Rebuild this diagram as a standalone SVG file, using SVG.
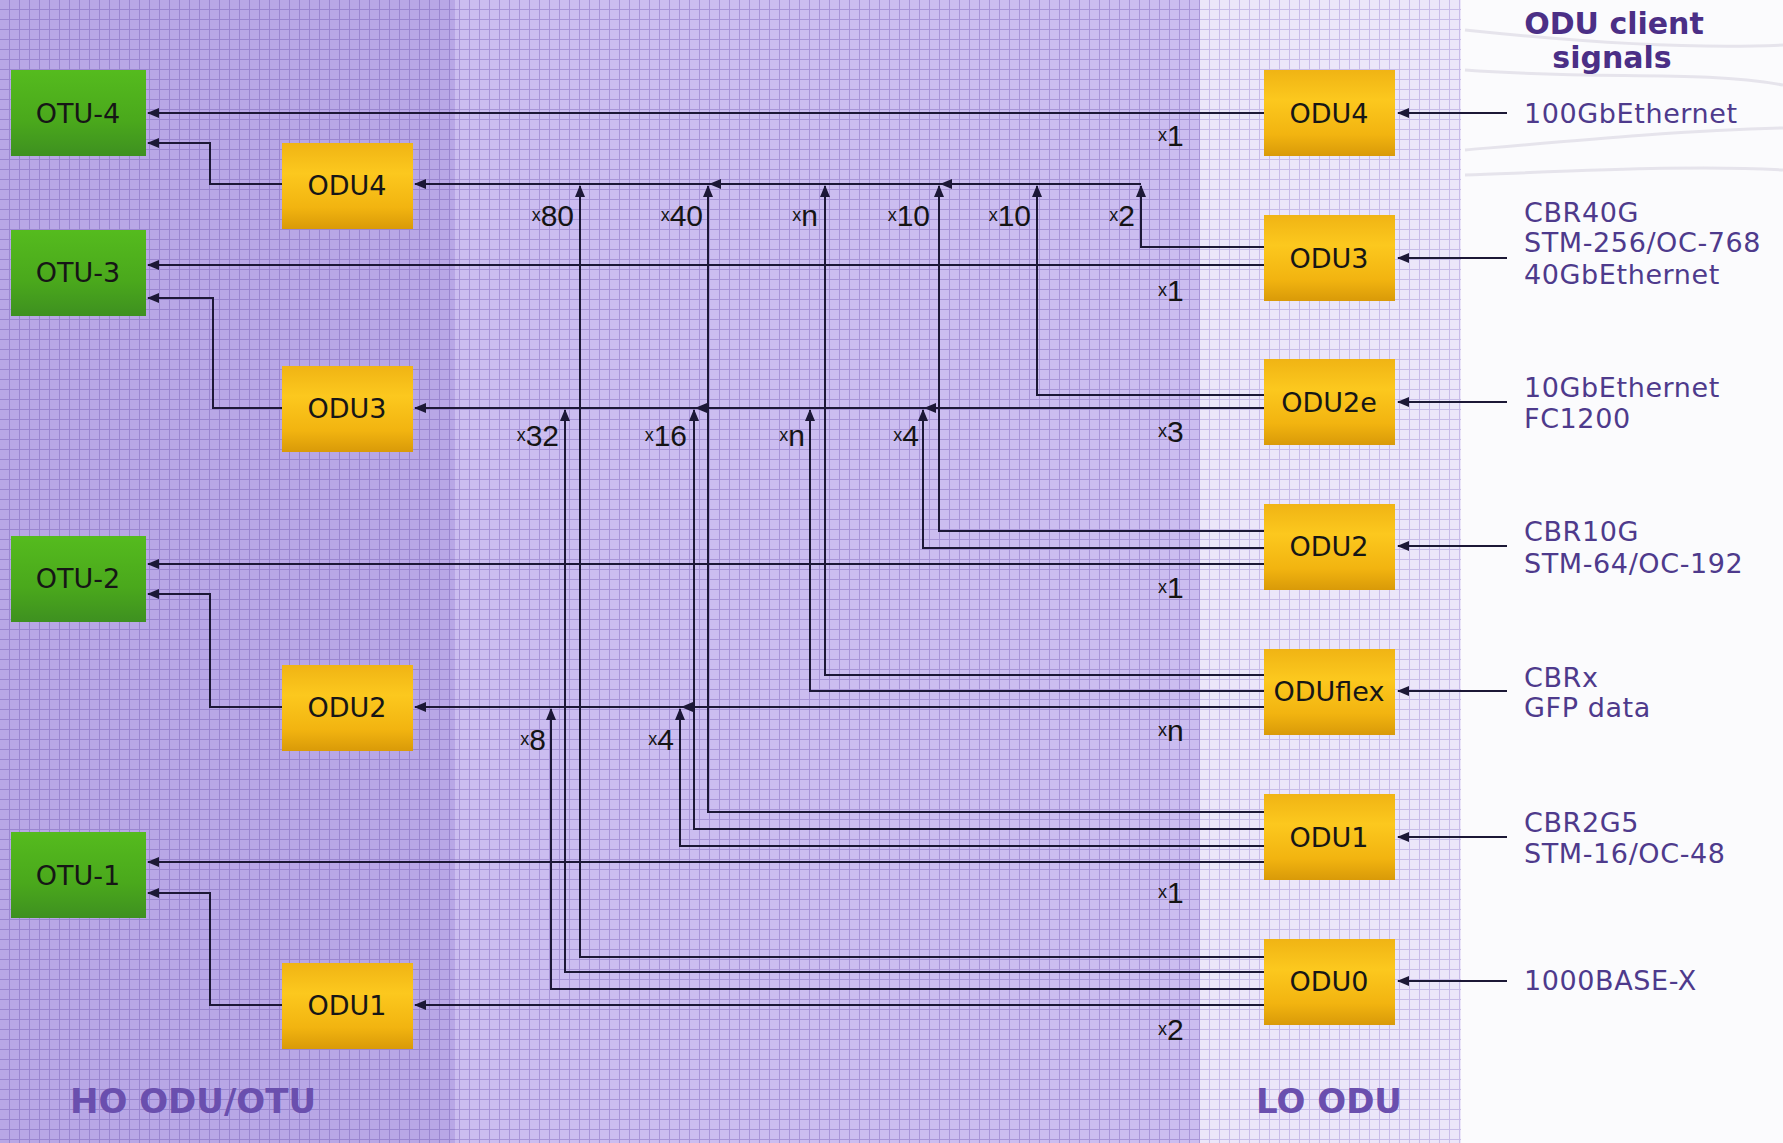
<svg xmlns="http://www.w3.org/2000/svg" width="1783" height="1143" viewBox="0 0 1783 1143">
<style>
.lnk{fill:none;stroke:#1c1836;stroke-width:2}
.nt{font-family:"DejaVu Sans",sans-serif;font-size:27px;fill:#161616;text-anchor:middle;dominant-baseline:central}
.cl{font-family:"DejaVu Sans",sans-serif;font-size:27px;fill:#4e3a8c;letter-spacing:0.6px}
.ttl{font-family:"DejaVu Sans",sans-serif;font-size:30px;font-weight:bold;fill:#4b2f86;text-anchor:middle}
.sec{font-family:"DejaVu Sans",sans-serif;font-size:34px;font-weight:bold;fill:#6a4fae}
.mul{font-family:"Liberation Sans",sans-serif;font-size:30px;fill:#141414}
.mr{text-anchor:end}
.sx{font-size:18px;baseline-shift:5px}
.swoosh{fill:none;stroke:#e6e4ec;stroke-width:3}
</style>
<defs>
<pattern id="gL" width="10" height="10" patternUnits="userSpaceOnUse">
<rect width="10" height="10" fill="#b8a7e6"/>
<path d="M9.5 0V10M0 9.5H10" stroke="#9a86d0" stroke-width="1"/>
</pattern>
<pattern id="gM" width="10" height="10" patternUnits="userSpaceOnUse">
<rect width="10" height="10" fill="#cbbdf0"/>
<path d="M9.5 0V10M0 9.5H10" stroke="#a895d8" stroke-width="1"/>
</pattern>
<pattern id="gR" width="10" height="10" patternUnits="userSpaceOnUse">
<rect width="10" height="10" fill="#ebe6f9"/>
<path d="M9.5 0V10M0 9.5H10" stroke="#c8bce8" stroke-width="1"/>
</pattern>
<linearGradient id="grn" x1="0" y1="0" x2="0" y2="1">
<stop offset="0" stop-color="#55bb1e"/>
<stop offset="0.6" stop-color="#4aa81c"/>
<stop offset="1" stop-color="#3e9020"/>
</linearGradient>
<linearGradient id="ylw" x1="0" y1="0" x2="0" y2="1">
<stop offset="0" stop-color="#f0b414"/>
<stop offset="0.35" stop-color="#fcc81e"/>
<stop offset="0.75" stop-color="#f2b410"/>
<stop offset="1" stop-color="#d99a08"/>
</linearGradient>
<marker id="ar" markerUnits="userSpaceOnUse" markerWidth="12" markerHeight="10" refX="11" refY="5" orient="auto">
<path d="M0,0 L12,5 L0,10 Z" fill="#1c1836"/>
</marker>
</defs>

<g id="background">
<rect x="0" y="0" width="1783" height="1143" fill="#fbfbfd"/>
<rect x="0" y="0" width="455" height="1143" fill="url(#gL)"/>
<rect x="455" y="0" width="745" height="1143" fill="url(#gM)"/>
<rect x="1200" y="0" width="261" height="1143" fill="url(#gR)"/>
<path class="swoosh" d="M1465,30 C1560,40 1680,50 1783,45"/>
<path class="swoosh" d="M1465,70 C1600,80 1700,70 1783,85"/>
<path class="swoosh" d="M1465,150 C1580,140 1690,130 1783,128"/>
<path class="swoosh" d="M1465,175 C1600,170 1700,165 1783,170"/>
</g>

<g id="connectors">
<path class="lnk" marker-end="url(#ar)" d="M1264,113 H148"/>
<path class="lnk" marker-end="url(#ar)" d="M282,184 H210 V143 H148"/>
<path class="lnk" marker-end="url(#ar)" d="M1264,265 H148"/>
<path class="lnk" marker-end="url(#ar)" d="M282,408 H213 V298 H148"/>
<path class="lnk" marker-end="url(#ar)" d="M1264,564 H148"/>
<path class="lnk" marker-end="url(#ar)" d="M282,707 H210 V594 H148"/>
<path class="lnk" marker-end="url(#ar)" d="M1264,862 H148"/>
<path class="lnk" marker-end="url(#ar)" d="M282,1005 H210 V893 H148"/>

<path class="lnk" marker-end="url(#ar)" d="M1141,184 H941"/>
<path class="lnk" marker-end="url(#ar)" d="M941,184 H710"/>
<path class="lnk" marker-end="url(#ar)" d="M710,184 H415"/>
<path class="lnk" marker-end="url(#ar)" d="M1264,408 H925"/>
<path class="lnk" marker-end="url(#ar)" d="M925,408 H696"/>
<path class="lnk" marker-end="url(#ar)" d="M696,408 H415"/>
<path class="lnk" marker-end="url(#ar)" d="M1264,707 H682"/>
<path class="lnk" marker-end="url(#ar)" d="M682,707 H415"/>
<path class="lnk" marker-end="url(#ar)" d="M1264,1005 H415"/>

<path class="lnk" marker-end="url(#ar)" d="M1264,247 H1141 V186"/>
<path class="lnk" marker-end="url(#ar)" d="M1264,395 H1037 V186"/>
<path class="lnk" marker-end="url(#ar)" d="M1264,531 H939 V186"/>
<path class="lnk" marker-end="url(#ar)" d="M1264,548 H923 V410"/>
<path class="lnk" marker-end="url(#ar)" d="M1264,675 H825 V186"/>
<path class="lnk" marker-end="url(#ar)" d="M1264,691 H810 V410"/>
<path class="lnk" marker-end="url(#ar)" d="M1264,812 H708 V186"/>
<path class="lnk" marker-end="url(#ar)" d="M1264,829 H694 V410"/>
<path class="lnk" marker-end="url(#ar)" d="M1264,846 H680 V709"/>
<path class="lnk" marker-end="url(#ar)" d="M1264,957 H580 V186"/>
<path class="lnk" marker-end="url(#ar)" d="M1264,972 H565 V410"/>
<path class="lnk" marker-end="url(#ar)" d="M1264,989 H551 V709"/>

<path class="lnk" marker-end="url(#ar)" d="M1507,113 H1398"/>
<path class="lnk" marker-end="url(#ar)" d="M1507,258 H1398"/>
<path class="lnk" marker-end="url(#ar)" d="M1507,402 H1398"/>
<path class="lnk" marker-end="url(#ar)" d="M1507,546 H1398"/>
<path class="lnk" marker-end="url(#ar)" d="M1507,691 H1398"/>
<path class="lnk" marker-end="url(#ar)" d="M1507,837 H1398"/>
<path class="lnk" marker-end="url(#ar)" d="M1507,981 H1398"/>
</g>

<g id="multipliers">
<text class="mul mr" x="574" y="226"><tspan class="sx">x</tspan>80</text>
<text class="mul mr" x="703" y="226"><tspan class="sx">x</tspan>40</text>
<text class="mul mr" x="818" y="226"><tspan class="sx">x</tspan>n</text>
<text class="mul mr" x="930" y="226"><tspan class="sx">x</tspan>10</text>
<text class="mul mr" x="1031" y="226"><tspan class="sx">x</tspan>10</text>
<text class="mul mr" x="1135" y="226"><tspan class="sx">x</tspan>2</text>
<text class="mul mr" x="559" y="446"><tspan class="sx">x</tspan>32</text>
<text class="mul mr" x="687" y="446"><tspan class="sx">x</tspan>16</text>
<text class="mul mr" x="805" y="446"><tspan class="sx">x</tspan>n</text>
<text class="mul mr" x="919" y="446"><tspan class="sx">x</tspan>4</text>
<text class="mul mr" x="546" y="750"><tspan class="sx">x</tspan>8</text>
<text class="mul mr" x="674" y="750"><tspan class="sx">x</tspan>4</text>
<text class="mul" x="1158" y="146"><tspan class="sx">x</tspan>1</text>
<text class="mul" x="1158" y="301"><tspan class="sx">x</tspan>1</text>
<text class="mul" x="1158" y="442"><tspan class="sx">x</tspan>3</text>
<text class="mul" x="1158" y="598"><tspan class="sx">x</tspan>1</text>
<text class="mul" x="1158" y="741"><tspan class="sx">x</tspan>n</text>
<text class="mul" x="1158" y="903"><tspan class="sx">x</tspan>1</text>
<text class="mul" x="1158" y="1040"><tspan class="sx">x</tspan>2</text>
</g>

<g id="otu4"><rect x="11" y="70" width="135" height="86" fill="url(#grn)"/><text class="nt" x="78" y="113">OTU-4</text></g>
<g id="otu3"><rect x="11" y="230" width="135" height="86" fill="url(#grn)"/><text class="nt" x="78" y="272">OTU-3</text></g>
<g id="otu2"><rect x="11" y="536" width="135" height="86" fill="url(#grn)"/><text class="nt" x="78" y="578">OTU-2</text></g>
<g id="otu1"><rect x="11" y="832" width="135" height="86" fill="url(#grn)"/><text class="nt" x="78" y="875">OTU-1</text></g>

<g id="ho-odu4"><rect x="282" y="143" width="131" height="86" fill="url(#ylw)"/><text class="nt" x="347" y="185">ODU4</text></g>
<g id="ho-odu3"><rect x="282" y="366" width="131" height="86" fill="url(#ylw)"/><text class="nt" x="347" y="408">ODU3</text></g>
<g id="ho-odu2"><rect x="282" y="665" width="131" height="86" fill="url(#ylw)"/><text class="nt" x="347" y="707">ODU2</text></g>
<g id="ho-odu1"><rect x="282" y="963" width="131" height="86" fill="url(#ylw)"/><text class="nt" x="347" y="1005">ODU1</text></g>

<g id="lo-odu4"><rect x="1264" y="70" width="131" height="86" fill="url(#ylw)"/><text class="nt" x="1329" y="113">ODU4</text></g>
<g id="lo-odu3"><rect x="1264" y="215" width="131" height="86" fill="url(#ylw)"/><text class="nt" x="1329" y="258">ODU3</text></g>
<g id="lo-odu2e"><rect x="1264" y="359" width="131" height="86" fill="url(#ylw)"/><text class="nt" x="1329" y="402">ODU2e</text></g>
<g id="lo-odu2"><rect x="1264" y="504" width="131" height="86" fill="url(#ylw)"/><text class="nt" x="1329" y="546">ODU2</text></g>
<g id="lo-oduflex"><rect x="1264" y="649" width="131" height="86" fill="url(#ylw)"/><text class="nt" x="1329" y="691">ODUflex</text></g>
<g id="lo-odu1"><rect x="1264" y="794" width="131" height="86" fill="url(#ylw)"/><text class="nt" x="1329" y="837">ODU1</text></g>
<g id="lo-odu0"><rect x="1264" y="939" width="131" height="86" fill="url(#ylw)"/><text class="nt" x="1329" y="981">ODU0</text></g>

<g id="clients">
<text class="ttl" x="1614" y="34">ODU client</text>
<text class="ttl" x="1612" y="68">signals</text>
<text class="cl" x="1524" y="123">100GbEthernet</text>
<text class="cl" x="1524" y="222">CBR40G</text>
<text class="cl" x="1524" y="252">STM-256/OC-768</text>
<text class="cl" x="1524" y="284">40GbEthernet</text>
<text class="cl" x="1524" y="397">10GbEthernet</text>
<text class="cl" x="1524" y="428">FC1200</text>
<text class="cl" x="1524" y="541">CBR10G</text>
<text class="cl" x="1524" y="573">STM-64/OC-192</text>
<text class="cl" x="1524" y="687">CBRx</text>
<text class="cl" x="1524" y="717">GFP data</text>
<text class="cl" x="1524" y="832">CBR2G5</text>
<text class="cl" x="1524" y="863">STM-16/OC-48</text>
<text class="cl" x="1524" y="990">1000BASE-X</text>
</g>

<g id="sections">
<text class="sec" x="70" y="1113">HO ODU/OTU</text>
<text class="sec" x="1329" y="1113" text-anchor="middle">LO ODU</text>
</g>
</svg>
